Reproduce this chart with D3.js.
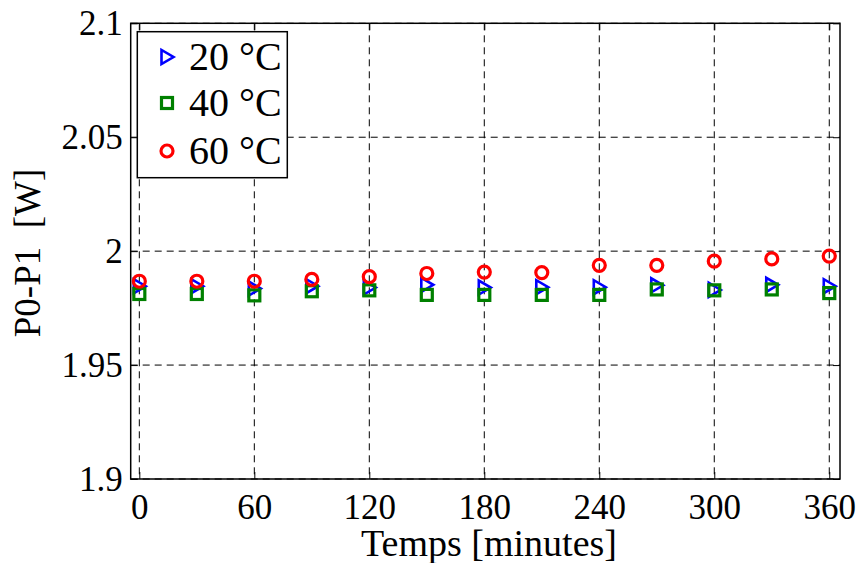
<!DOCTYPE html>
<html>
<head>
<meta charset="utf-8">
<script src="https://cdn.jsdelivr.net/npm/d3@7"></script>
<style>
  html, body { margin: 0; padding: 0; background: #fff; }
  svg { display: block; }
  text { font-family: "Liberation Serif", "Times New Roman", serif; fill: #000; white-space: pre; }
</style>
</head>
<body>
<svg id="chart" width="860" height="563"></svg>
<script>
// ---- data ----
const times = [0, 30, 60, 90, 120, 150, 180, 210, 240, 270, 300, 330, 360];
const p20 = [1.9846, 1.9846, 1.9836, 1.9846, 1.9840, 1.9852, 1.9840, 1.9842, 1.9842, 1.9850, 1.9830, 1.9852, 1.9846];
const p40 = [1.9812, 1.9812, 1.9806, 1.9824, 1.9828, 1.9808, 1.9808, 1.9808, 1.9808, 1.9832, 1.9828, 1.9832, 1.9816];
const p60 = [1.9868, 1.9868, 1.9868, 1.9876, 1.9888, 1.9902, 1.9908, 1.9906, 1.9938, 1.9938, 1.9956, 1.9966, 1.9978];
const xTicks = [0, 60, 120, 180, 240, 300, 360];
const yTicks = [1.9, 1.95, 2, 2.05, 2.1];
const yTickLabels = ["1.9", "1.95", "2", "2.05", "2.1"];
const seriesNames = ["20 °C", "40 °C", "60 °C"];
const xTitle = "Temps [minutes]";
const yTitle = "P0-P1  [W]";

// ---- layout ----
const L = 130.7, R = 840, T = 23.3, B = 479;
const svg = d3.select("#chart");
const x = d3.scaleLinear().domain([-4.5, 365.6]).range([L, R]);
const y = d3.scaleLinear().domain([1.9, 2.1]).range([B, T]);

// grid
const grid = svg.append("g").attr("stroke", "#000").attr("stroke-width", 1)
  .attr("stroke-dasharray", "7,5").attr("fill", "none");
grid.selectAll("line.gx").data(xTicks).enter().append("line")
  .attr("x1", d => x(d)).attr("x2", d => x(d)).attr("y1", T).attr("y2", B);
grid.selectAll("line.gy").data(yTicks).enter().append("line")
  .attr("x1", L).attr("x2", R).attr("y1", d => y(d)).attr("y2", d => y(d));

// axes (inward ticks) using d3 axes
const tl = 7;
svg.append("g").attr("transform", `translate(0,${B})`)
  .call(d3.axisBottom(x).tickValues(xTicks).tickSize(-tl).tickPadding(15).tickFormat(d3.format("d")))
  .call(g => { g.select(".domain").remove(); g.selectAll("line").attr("stroke", "#000");
    g.selectAll("text").attr("font-size", 35).attr("font-family", "Liberation Serif").attr("fill", "#000"); });
svg.append("g").attr("transform", `translate(0,${T})`)
  .call(d3.axisTop(x).tickValues(xTicks).tickSize(-tl).tickFormat(""))
  .call(g => { g.select(".domain").remove(); g.selectAll("line").attr("stroke", "#000"); });
svg.append("g").attr("transform", `translate(${L},0)`)
  .call(d3.axisLeft(y).tickValues(yTicks).tickSize(-tl).tickPadding(8).tickFormat((d, i) => yTickLabels[i]))
  .call(g => { g.select(".domain").remove(); g.selectAll("line").attr("stroke", "#000");
    g.selectAll("text").attr("font-size", 35).attr("font-family", "Liberation Serif").attr("fill", "#000"); });
svg.append("g").attr("transform", `translate(${R},0)`)
  .call(d3.axisRight(y).tickValues(yTicks).tickSize(-tl).tickFormat(""))
  .call(g => { g.select(".domain").remove(); g.selectAll("line").attr("stroke", "#000"); });

// box
svg.append("rect").attr("x", L).attr("y", T).attr("width", R - L).attr("height", B - T)
  .attr("fill", "none").attr("stroke", "#000").attr("stroke-width", 1.5);

// markers
const triPath = "M-5.5,-7L-5.5,7L6.5,0Z";
const sq = 11;
function drawTri(g, cx, cy) {
  g.append("path").attr("d", triPath).attr("transform", `translate(${cx},${cy})`)
    .attr("fill", "none").attr("stroke", "#0000ff").attr("stroke-width", 2.6);
}
function drawSq(g, cx, cy) {
  g.append("rect").attr("x", cx - sq / 2).attr("y", cy - sq / 2).attr("width", sq).attr("height", sq)
    .attr("fill", "none").attr("stroke", "#008000").attr("stroke-width", 3.2);
}
function drawCirc(g, cx, cy) {
  g.append("circle").attr("cx", cx).attr("cy", cy).attr("r", 6)
    .attr("fill", "none").attr("stroke", "#ff0000").attr("stroke-width", 3.2);
}
const gm = svg.append("g");
times.forEach((t, i) => drawTri(gm, x(t), y(p20[i])));
times.forEach((t, i) => drawSq(gm, x(t), y(p40[i])));
times.forEach((t, i) => drawCirc(gm, x(t), y(p60[i])));

// titles
svg.append("text").attr("x", 489).attr("y", 556).attr("text-anchor", "middle")
  .attr("font-size", 38).text(xTitle);
svg.append("text").attr("transform", "translate(40,253) rotate(-90)").attr("text-anchor", "middle")
  .attr("font-size", 37).attr("xml:space", "preserve").text(yTitle);

// legend
const lg = svg.append("g");
lg.append("rect").attr("x", 137.3).attr("y", 31.7).attr("width", 150).attr("height", 146)
  .attr("fill", "#fff").attr("stroke", "#000").attr("stroke-width", 1.5);
const legY = [57, 103, 151];
const drawers = [drawTri, drawSq, drawCirc];
seriesNames.forEach((n, i) => {
  drawers[i](lg, 167, legY[i]);
  lg.append("text").attr("x", 189).attr("y", legY[i] + 13).attr("font-size", 40).text(n);
});
</script>
</body>
</html>
